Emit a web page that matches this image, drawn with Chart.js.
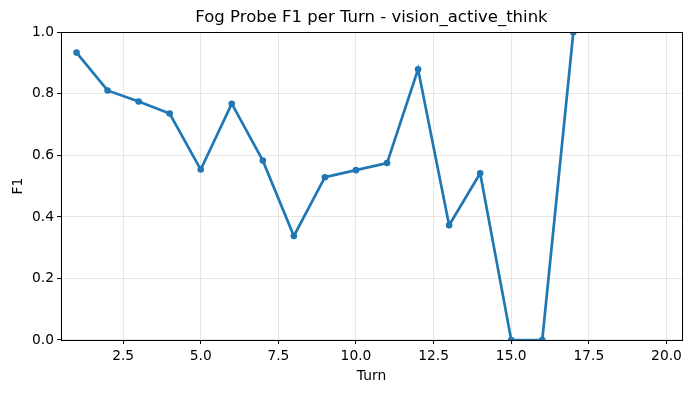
<!DOCTYPE html>
<html>
<head>
<meta charset="utf-8">
<script src="https://cdn.jsdelivr.net/npm/chart.js@4/dist/chart.umd.min.js"></script>
<style>
  html, body { margin: 0; padding: 0; background: #fff; }
  canvas { display: block; }
</style>
</head>
<body>
<canvas id="f1-chart" width="691" height="393"></canvas>
<script>
const turns = [1, 2, 3, 4, 5, 6, 7, 8, 9, 10, 11, 12, 13, 14, 15, 16, 17];
const f1Scores = [0.934, 0.811, 0.775, 0.736, 0.554, 0.768, 0.583, 0.338, 0.529, 0.552, 0.575, 0.880, 0.373, 0.542, 0, 0, 1.0];
const xTicks = [2.5, 5.0, 7.5, 10.0, 12.5, 15.0, 17.5, 20.0];
const yTicks = [0, 0.2, 0.4, 0.6, 0.8, 1.0];

const FONT = 'DejaVu Sans';
const BLUE = '#1f77b4';
const GRID = 'rgba(176, 176, 176, 0.3)';

// matplotlib draws a full frame round the axes
const frame = {
  id: 'frame',
  afterDatasetsDraw(chart) {
    const { ctx, chartArea: a } = chart;
    ctx.save();
    ctx.strokeStyle = '#000';
    ctx.lineWidth = 1;
    ctx.strokeRect(Math.round(a.left) + 0.5, Math.round(a.top) + 0.5,
      Math.round(a.right - a.left), Math.round(a.bottom - a.top));
    ctx.restore();
  }
};

new Chart(document.getElementById('f1-chart'), {
  type: 'line',
  data: {
    datasets: [{
      label: 'F1',
      data: turns.map((t, i) => ({ x: t, y: f1Scores[i] })),
      borderColor: BLUE,
      backgroundColor: BLUE,
      borderWidth: 2.7,
      pointRadius: 3.3,
      pointHoverRadius: 3.3,
      pointBorderWidth: 0,
      tension: 0,
      clip: 0
    }]
  },
  options: {
    responsive: false,
    animation: false,
    layout: { padding: { top: 0, right: 9, bottom: 0, left: 0 } },
    plugins: {
      legend: { display: false },
      tooltip: { enabled: false },
      title: {
        display: true,
        fullSize: false,
        text: 'Fog Probe F1 per Turn - vision_active_think',
        color: '#000',
        font: { family: FONT, size: 16.5, weight: 'normal' },
        padding: { top: 8, bottom: 4.5 }
      }
    },
    scales: {
      x: {
        type: 'linear',
        min: 0.5,
        max: 20.5,
        afterBuildTicks: axis => { axis.ticks = xTicks.map(v => ({ value: v })); },
        afterFit: axis => { axis.height = 53; },
        ticks: {
          color: '#000',
          font: { family: FONT, size: 13.8 },
          padding: 4,
          maxRotation: 0,
          callback: v => v.toFixed(1)
        },
        grid: { color: GRID, lineWidth: 1.1, tickColor: '#000', tickLength: 4, tickWidth: 1 },
        border: { display: false },
        title: {
          display: true,
          text: 'Turn',
          color: '#000',
          font: { family: FONT, size: 13.8 },
          padding: { top: 0, bottom: 8 }
        }
      },
      y: {
        min: 0,
        max: 1,
        afterBuildTicks: axis => { axis.ticks = yTicks.map(v => ({ value: v })); },
        afterFit: axis => { axis.width = 61; },
        ticks: {
          color: '#000',
          font: { family: FONT, size: 13.8 },
          padding: 3,
          callback: v => v.toFixed(1)
        },
        grid: { color: GRID, lineWidth: 1.1, tickColor: '#000', tickLength: 4, tickWidth: 1 },
        border: { display: false },
        title: {
          display: true,
          text: 'F1',
          color: '#000',
          font: { family: FONT, size: 13.8 },
          padding: { top: 10, bottom: 0 }
        }
      }
    }
  },
  plugins: [frame]
});
</script>
</body>
</html>
